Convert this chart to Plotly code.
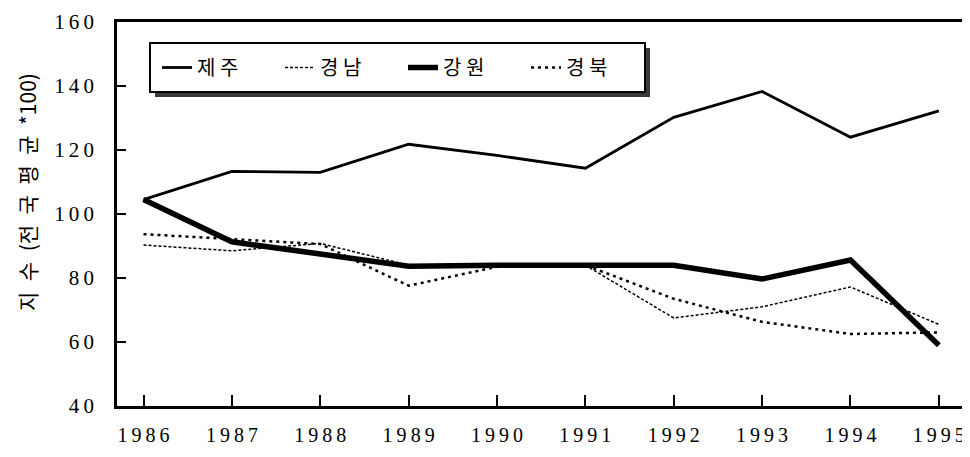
import plotly.graph_objects as go

years = [1986, 1987, 1988, 1989, 1990, 1991, 1992, 1993, 1994, 1995]
year_labels = ["1\u20099\u20098\u20096", "1\u20099\u20098\u20097", "1\u20099\u20098\u20098",
               "1\u20099\u20098\u20099", "1\u20099\u20099\u20090", "1\u20099\u20099\u20091",
               "1\u20099\u20099\u20092", "1\u20099\u20099\u20093", "1\u20099\u20099\u20094",
               "1\u20099\u20099\u20095"]
y_ticks = [40, 60, 80, 100, 120, 140, 160]
y_labels = ["4\u20090", "6\u20090", "8\u20090", "1\u20090\u20090", "1\u20092\u20090",
            "1\u20094\u20090", "1\u20096\u20090"]

jeju = [104.5, 113.3, 113.0, 121.8, 118.3, 114.3, 130.2, 138.3, 124.0, 132.2]
gyeongnam = [90.3, 88.5, 90.8, 84.0, 84.2, 84.0, 67.5, 71.0, 77.2, 65.5]
gangwon = [104.5, 91.3, 87.5, 83.7, 84.0, 84.0, 84.0, 79.7, 85.6, 59.0]
gyeongbuk = [93.7, 92.2, 90.6, 77.6, 83.5, 84.0, 73.5, 66.3, 62.5, 63.0]

names = ["제 주", "경 남", "강 원", "경 북"]
series = [jeju, gyeongnam, gangwon, gyeongbuk]
styles = [dict(width=2.8, dash="solid"),
          dict(width=1.5, dash="3px,2px"),
          dict(width=5.5, dash="solid"),
          dict(width=2.5, dash="3px,4px")]
y_title = "지\u2002수\u2002(전\u2002국\u2002평\u2002균\u2002*100)"

fig = go.Figure()
for nm, vals, st in zip(names, series, styles):
    fig.add_trace(go.Scatter(x=years, y=vals, mode="lines", name=nm,
                             line=dict(color="black", **st)))

# the page body has an 8px default margin; size the figure to fit the window
OFF = 8
W, H = 970 - OFF, 457 - OFF
plot_l, plot_r, plot_t, plot_b = 117, 968, 22, 406   # in window pixels
ml, mr = plot_l - OFF, (970 - plot_r)
mt, mb = plot_t - OFF, (457 - plot_b)
pw, ph = W - ml - mr, H - mt - mb

def px(x):
    return (x - plot_l) / pw

def py(y):
    return (plot_b - y) / ph

# legend frame with shadow
fig.add_shape(type="rect", xref="paper", yref="paper",
              x0=px(155), x1=px(650), y0=py(97), y1=py(48),
              fillcolor="#3a3a3a", line=dict(width=0), layer="above")
fig.add_shape(type="rect", xref="paper", yref="paper",
              x0=px(150), x1=px(645), y0=py(92), y1=py(43),
              fillcolor="white", line=dict(width=2, color="black"), layer="above")

fig.add_annotation(text=y_title, xref="paper", yref="paper",
                   x=px(27), y=py(192), xanchor="center", yanchor="middle",
                   textangle=-90, showarrow=False,
                   font=dict(family="Noto Sans CJK KR", size=21, color="black"))

fig.update_layout(
    width=W, height=H,
    margin=dict(l=ml, r=mr, t=mt, b=mb),
    paper_bgcolor="white", plot_bgcolor="white",
    font=dict(family="Liberation Serif, Noto Sans CJK KR", color="black", size=21),
    showlegend=True,
    legend=dict(orientation="h", x=px(157), y=py(67.5), xanchor="left", yanchor="middle",
                bgcolor="rgba(0,0,0,0)", borderwidth=0,
                font=dict(family="Noto Sans CJK KR", size=20, color="black"),
                itemwidth=30, entrywidth=78, entrywidthmode="pixels"),
    xaxis=dict(range=[1985.70, 1995.33], tickmode="array", tickvals=years,
               ticktext=year_labels, ticks="inside", ticklen=11, tickwidth=2,
               tickcolor="black", showline=True, linecolor="black", linewidth=2.5,
               mirror=True, showgrid=False, zeroline=False, automargin=False,
               ticklabelstandoff=9,
               tickfont=dict(family="Liberation Serif", size=20)),
    yaxis=dict(range=[40, 160], tickmode="array", tickvals=y_ticks,
               ticktext=y_labels, ticks="inside", ticklen=9, tickwidth=2,
               tickcolor="black", showline=True, linecolor="black", linewidth=2.5,
               mirror=True, showgrid=False, zeroline=False, automargin=False,
               ticklabelstandoff=16,
               tickfont=dict(family="Liberation Serif", size=21)),
)

fig.write_html("out.html")
